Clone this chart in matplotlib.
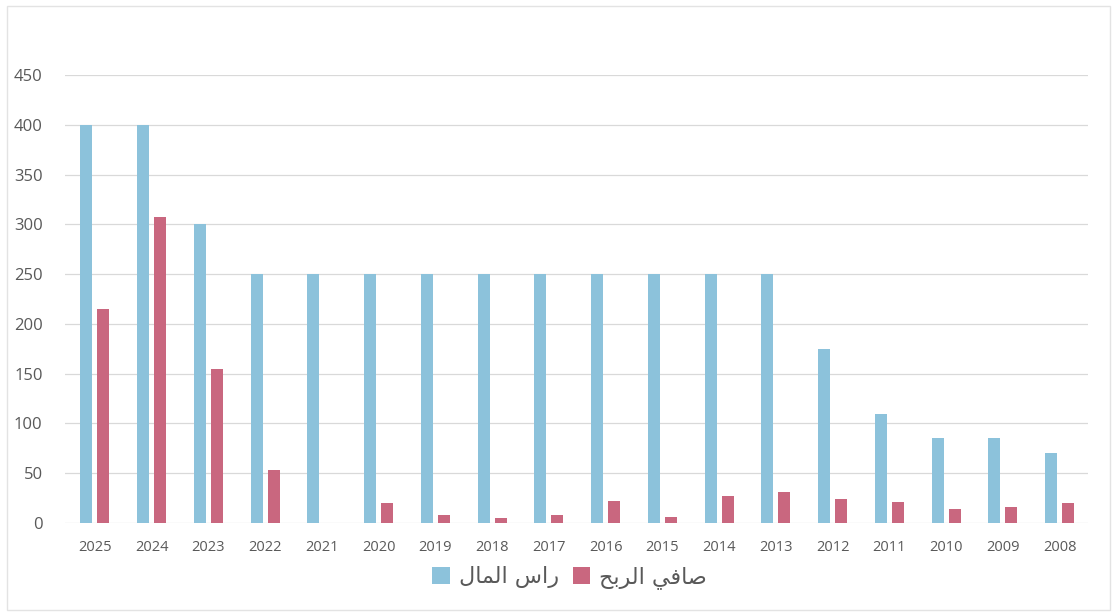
#!/usr/bin/env python3
import numpy as np
import matplotlib
matplotlib.use("Agg")
import matplotlib.pyplot as plt
from matplotlib.patches import Rectangle

# data (newest year on the left)
years = ["2025", "2024", "2023", "2022", "2021", "2020", "2019", "2018", "2017",
         "2016", "2015", "2014", "2013", "2012", "2011", "2010", "2009", "2008"]
capital = [400, 400, 300, 250, 250, 250, 250, 250, 250,
           250, 250, 250, 250, 175, 110, 85, 85, 70]
net_profit = [215, 307, 155, 53, 0, 20, 8, 5, 8,
              22, 6, 27, 31, 24, 21, 14, 16, 20]
y_ticks = [0, 50, 100, 150, 200, 250, 300, 350, 400, 450]

# Arabic labels in shaped presentation forms, visual order
# "راس المال"
label_capital = "\uFEDD\uFE8E\uFEE4\uFEDF\uFE8D \uFEB1\uFE8D\uFEAD"
# "صافي الربح"
label_profit = "\uFEA2\uFE91\uFEAE\uFEDF\uFE8D \uFEF2\uFED3\uFE8E\uFEBB"

BLUE = "#8cc2db"
PINK = "#c9677f"
TEXT = "#595959"

plt.rcParams["font.family"] = ["Open Sans", "DejaVu Sans"]

fig = plt.figure(figsize=(11.17, 6.16), dpi=100)
ax = fig.add_axes([0.058, 0.151, 0.916, 0.727])

x = np.arange(len(years))
w = 0.21
off = 0.15
ax.bar(x - off, capital, width=w, color=BLUE, label=label_capital, zorder=3)
ax.bar(x + off, net_profit, width=w, color=PINK, label=label_profit, zorder=3)

ax.set_xlim(-0.53, len(years) - 0.5)
ax.set_ylim(0, 450)
ax.set_yticks(y_ticks)
ax.set_xticks(x)
ax.set_xticklabels(years, fontsize=10.5, color=TEXT)
ax.tick_params(axis="y", labelsize=12, labelcolor=TEXT, length=0, pad=16)
ax.tick_params(axis="x", length=0, pad=12)
ax.grid(axis="y", color="#d9d9d9", linewidth=0.9, zorder=0)
for s in ax.spines.values():
    s.set_visible(False)

fig.legend(loc="center", bbox_to_anchor=(0.51, 0.063),
           ncol=2, frameon=False, handlelength=0.8,
           handleheight=0.8, columnspacing=0.6, handletextpad=0.4,
           prop={"family": "DejaVu Sans", "size": 16}, labelcolor=TEXT)

fig.patches.append(Rectangle((0.006, 0.01), 0.988, 0.98, transform=fig.transFigure,
                             fill=False, edgecolor="#e3e3e3", linewidth=1))

fig.savefig("out.png", dpi=100, facecolor="white")
